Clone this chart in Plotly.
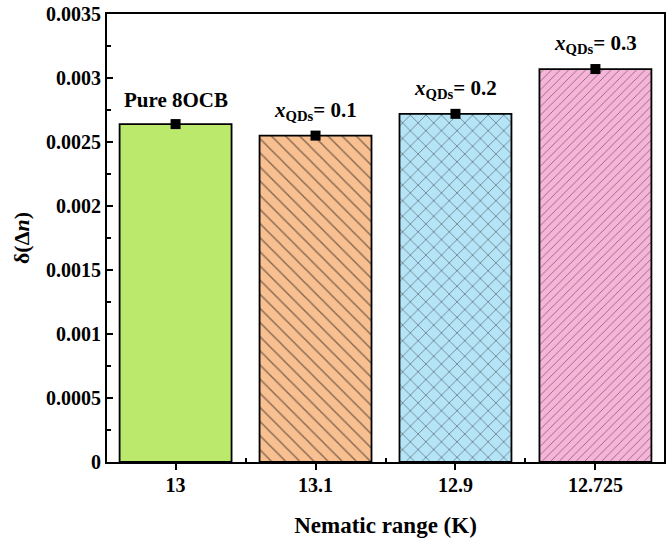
import plotly.graph_objects as go

categories = ["13", "13.1", "12.9", "12.725"]
values = [0.00264, 0.00255, 0.00272, 0.00307]
labels = ["Pure 8OCB", "<i>x</i><sub>QDs</sub>= 0.1", "<i>x</i><sub>QDs</sub>= 0.2", "<i>x</i><sub>QDs</sub>= 0.3"]
colors = ["#bbe96c", "#f8bf90", "#b6e4f7", "#f6b4d8"]
patterns = ["", "\\", "x", "/"]
pattern_sizes = [8, 10, 11, 6]

xpos = list(range(len(categories)))
font = "Liberation Serif, Times New Roman, serif"

fig = go.Figure()
for xi, v, c, p, ps in zip(xpos, values, colors, patterns, pattern_sizes):
    fig.add_trace(go.Bar(
        x=[xi], y=[v], width=0.8,
        marker=dict(color=c, line=dict(color="black", width=1.8),
                    pattern=dict(shape=p, fgcolor="#111111", size=ps,
                                 solidity=0.14, fillmode="overlay")),
        showlegend=False, hoverinfo="skip",
    ))
fig.add_trace(go.Scatter(
    x=xpos, y=values, mode="markers",
    marker=dict(symbol="square", size=10, color="black"),
    showlegend=False,
))
for xi, v, t in zip(xpos, values, labels):
    fig.add_annotation(x=xi, y=v, text=f"<b>{t}</b>", showarrow=False,
                       yanchor="bottom", yshift=10,
                       font=dict(family=font, size=21, color="black"))

fig.update_layout(
    width=668, height=539,
    margin=dict(l=107, r=4, t=14, b=77),
    plot_bgcolor="white", paper_bgcolor="white",
    font=dict(family=font, size=20, color="black"),
    barmode="overlay",
)
fig.update_xaxes(
    range=[-0.49, 3.49], tickmode="array", tickvals=xpos,
    ticktext=[f"<b>{c}</b>" for c in categories],
    showline=True, linewidth=2, linecolor="black", mirror=True,
    ticks="outside", ticklen=6, tickwidth=2, tickcolor="black",
    ticklabelstandoff=-2,
    minor=dict(tickvals=[0.5, 1.5, 2.5], ticks="inside", ticklen=4, tickwidth=2, tickcolor="black"),
    showgrid=False, zeroline=False, automargin=False,
    title=dict(text="<b>Nematic range (K)</b>", font=dict(family=font, size=23), standoff=22),
    tickfont=dict(family=font, size=20),
)
fig.update_yaxes(
    range=[0, 0.0035],
    tickvals=[0, 0.0005, 0.001, 0.0015, 0.002, 0.0025, 0.003, 0.0035],
    ticktext=["<b>0</b>", "<b>0.0005</b>", "<b>0.001</b>", "<b>0.0015</b>", "<b>0.002</b>",
              "<b>0.0025</b>", "<b>0.003</b>", "<b>0.0035</b>"],
    showline=True, linewidth=2, linecolor="black", mirror=True,
    ticks="inside", ticklen=6, tickwidth=2, tickcolor="black",
    minor=dict(tickvals=[0.00025, 0.00075, 0.00125, 0.00175, 0.00225, 0.00275, 0.00325],
               ticks="inside", ticklen=4, tickwidth=2, tickcolor="black"),
    showgrid=False, zeroline=False, automargin=False,
    title=dict(text="<b>δ(Δ<i>n</i>)</b>", font=dict(family=font, size=22), standoff=10),
    tickfont=dict(family=font, size=20),
)
fig.write_html("out.html", config={"displayModeBar": False},
               post_script="document.body.style.margin='0';")
